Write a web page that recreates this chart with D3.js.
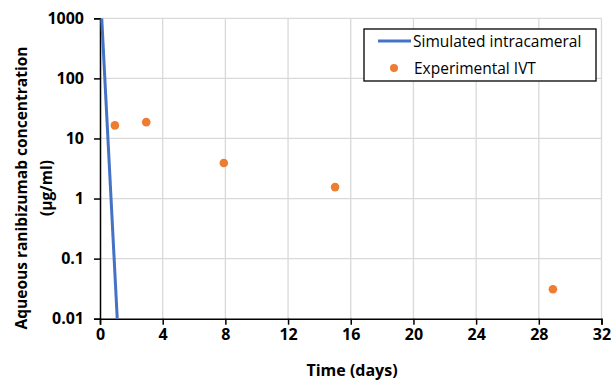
<!DOCTYPE html>
<html>
<head>
<meta charset="utf-8">
<script src="https://cdn.jsdelivr.net/npm/d3@7"></script>
<style>
  body { margin: 0; background: #fff; }
  text { font-family: "Open Sans", "Liberation Sans", sans-serif; }
</style>
</head>
<body>
<div id="chart"></div>
<script>
// simulated intracameral curve
let simDays = [0.11, 1.1];
let simConc = [1000, 0.01];
// experimental IVT points
let expDays = [0.95, 2.95, 7.9, 15, 28.9];
let expConc = [16.5, 18.7, 3.9, 1.55, 0.031];

let xTicks = [0, 4, 8, 12, 16, 20, 24, 28, 32];
let yTicks = [0.01, 0.1, 1, 10, 100, 1000];
let yTickLabels = ["0.01", "0.1", "1", "10", "100", "1000"];

let width = 611, height = 383;
let plotLeft = 100, plotRight = 601.5, plotTop = 18.3, plotBottom = 318.7;

let svg = d3.select('#chart').append('svg')
  .attr('width', width)
  .attr('height', height);

let x = d3.scaleLinear().domain([0, 32]).range([plotLeft, plotRight]);
let y = d3.scaleLog().domain([0.01, 1000]).range([plotBottom, plotTop]);

// grid
let grid = svg.append('g').attr('class', 'grid');
grid.selectAll('line.v')
  .data(xTicks.slice(1))
  .enter().append('line')
  .attr('x1', d => x(d)).attr('x2', d => x(d))
  .attr('y1', plotTop).attr('y2', plotBottom)
  .attr('stroke', '#d9d9d9').attr('stroke-width', 1.3);
grid.selectAll('line.h')
  .data(yTicks.slice(1))
  .enter().append('line')
  .attr('x1', plotLeft).attr('x2', plotRight)
  .attr('y1', d => y(d)).attr('y2', d => y(d))
  .attr('stroke', '#d9d9d9').attr('stroke-width', 1.3);

// axes
let xAxis = svg.append('g')
  .attr('transform', 'translate(0,' + plotBottom + ')')
  .call(d3.axisBottom(x).tickValues(xTicks).tickSize(6).tickPadding(4));
let yAxis = svg.append('g')
  .attr('transform', 'translate(' + plotLeft + ',0)')
  .call(d3.axisLeft(y).tickValues(yTicks).tickSize(6).tickPadding(10)
    .tickFormat((d, i) => yTickLabels[i]));

[xAxis, yAxis].forEach(a => {
  a.select('.domain').attr('stroke', '#000').attr('stroke-width', 1.5);
  a.selectAll('.tick line').attr('stroke', '#000').attr('stroke-width', 1.5);
  a.selectAll('.tick text')
    .attr('fill', '#000')
    .style('font-size', '16px')
    .style('font-weight', 'bold')
    .style('font-family', '"Open Sans", sans-serif');
});

// clip for data
svg.append('clipPath').attr('id', 'clip')
  .append('rect').attr('x', plotLeft).attr('y', plotTop)
  .attr('width', plotRight - plotLeft).attr('height', plotBottom - plotTop);

let line = d3.line()
  .x(d => x(d[0]))
  .y(d => y(d[1]));

svg.append('path')
  .datum(d3.zip(simDays, simConc))
  .attr('clip-path', 'url(#clip)')
  .attr('d', line)
  .attr('fill', 'none')
  .attr('stroke', '#4472c4')
  .attr('stroke-width', 3);

svg.selectAll('circle.exp')
  .data(d3.zip(expDays, expConc))
  .enter().append('circle')
  .attr('class', 'exp')
  .attr('cx', d => x(d[0]))
  .attr('cy', d => y(d[1]))
  .attr('r', 4.3)
  .attr('fill', '#ed7d31');

// axis titles
svg.append('text')
  .attr('x', 352)
  .attr('y', 376)
  .attr('text-anchor', 'middle')
  .style('font-size', '16px')
  .style('font-weight', 'bold')
  .text('Time (days)');

let yt = svg.append('text')
  .attr('transform', 'translate(0,188) rotate(-90)')
  .attr('text-anchor', 'middle')
  .style('font-size', '15.5px')
  .style('font-weight', 'bold');
yt.append('tspan').attr('x', 0).attr('y', 27).text('Aqueous ranibizumab concentration');
yt.append('tspan').attr('x', 0).attr('y', 52).text('(µg/ml)');

// legend
let lg = svg.append('g');
lg.append('rect')
  .attr('x', 364).attr('y', 29).attr('width', 232).attr('height', 52)
  .attr('fill', '#fff').attr('stroke', '#000').attr('stroke-width', 1.3);
lg.append('line')
  .attr('x1', 378).attr('x2', 411).attr('y1', 41).attr('y2', 41)
  .attr('stroke', '#4472c4').attr('stroke-width', 3);
lg.append('text').attr('x', 413).attr('y', 47)
  .style('font-size', '15.5px').text('Simulated intracameral');
lg.append('circle').attr('cx', 394).attr('cy', 68).attr('r', 4)
  .attr('fill', '#ed7d31');
lg.append('text').attr('x', 414).attr('y', 73.5)
  .style('font-size', '15.5px').text('Experimental IVT');
</script>
</body>
</html>
